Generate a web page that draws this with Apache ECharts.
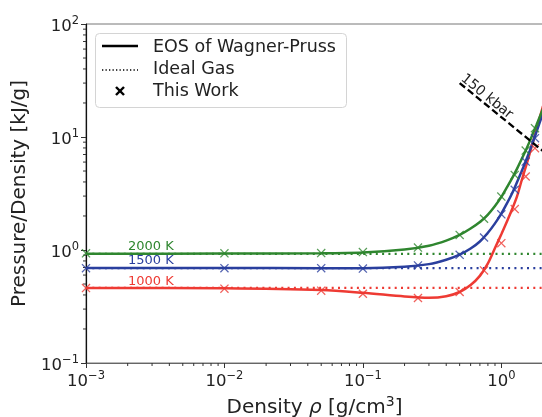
<!DOCTYPE html>
<html>
<head>
<meta charset="utf-8">
<script src="https://cdn.jsdelivr.net/npm/echarts@6/dist/echarts.min.js"></script>
<style>
html, body { margin: 0; padding: 0; background: #fff; }
#chart { width: 542px; height: 417px; }
</style>
</head>
<body>
<div id="chart"></div>
<script>
// Equation-of-state curves (Wagner-Pruss), P/rho in kJ/g vs density in g/cm^3
const eosDensity = [0.001, 0.01, 0.05, 0.1, 0.2, 0.3, 0.4, 0.5, 0.6, 0.7, 0.8, 0.9, 1.0, 1.1, 1.2, 1.3, 1.4, 1.5, 1.6, 1.7, 1.8, 1.9, 2.0];
const eos1000 = [0.4615, 0.458, 0.442, 0.418, 0.388, 0.378, 0.39, 0.425, 0.49, 0.59, 0.76, 1.04, 1.38, 1.8, 2.32, 3.0, 4.1, 5.4, 7.1, 9.2, 11.8, 15.0, 18.8];
const eos1500 = [0.692, 0.692, 0.691, 0.69, 0.71, 0.75, 0.82, 0.91, 1.03, 1.19, 1.42, 1.72, 2.1, 2.6, 3.2, 4.0, 4.95, 6.1, 7.5, 9.2, 11.2, 13.6, 16.4];
const eos2000 = [0.925, 0.93, 0.935, 0.95, 1.01, 1.09, 1.21, 1.36, 1.55, 1.77, 2.06, 2.45, 2.95, 3.6, 4.35, 5.25, 6.35, 7.6, 9.1, 10.9, 12.9, 15.2, 17.8];

// Simulation results
const workDensity = [0.001, 0.01, 0.05, 0.1, 0.25, 0.5, 0.75, 1.0, 1.25, 1.5, 1.75];
const work1000 = [0.46, 0.455, 0.437, 0.41, 0.376, 0.425, 0.66, 1.15, 2.3, 4.47, 7.96];
const work1500 = [0.69, 0.69, 0.69, 0.685, 0.73, 0.907, 1.29, 2.07, 3.41, 6.06, 9.76];
const work2000 = [0.935, 0.935, 0.94, 0.958, 1.05, 1.36, 1.89, 2.97, 4.62, 7.59, 11.97];

// Ideal gas limit P/rho = RT/M
const idealDensity = [0.001, 2];
const ideal1000 = [0.4615, 0.4615];
const ideal1500 = [0.692, 0.692];
const ideal2000 = [0.923, 0.923];

// 150 kbar isobar
const isobarDensity = [0.5, 2];
const isobarValue = [30, 7.5];

// Minor tick positions
const xMinorTicks = [0.002, 0.003, 0.004, 0.005, 0.006, 0.007, 0.008, 0.009,
  0.02, 0.03, 0.04, 0.05, 0.06, 0.07, 0.08, 0.09,
  0.2, 0.3, 0.4, 0.5, 0.6, 0.7, 0.8, 0.9];
const yMinorTicks = [0.2, 0.3, 0.4, 0.5, 0.6, 0.7, 0.8, 0.9,
  2, 3, 4, 5, 6, 7, 8, 9, 20, 30, 40, 50, 60, 70, 80, 90];

const tempLabels = ['1000 K', '1500 K', '2000 K'];
const legendLabels = ['EOS of Wagner-Pruss', 'Ideal Gas', 'This Work'];

const RED = '#ee3a33', BLUE = '#2a3f9e', GREEN = '#2f862f';
const FONT = 'DejaVu Sans';
const TXT = '#222';

const zip = (xs, ys) => xs.map((x, i) => [x, ys[i]]);
const CROSS = 'path://M0,1L1,0L5,4L9,0L10,1L6,5L10,9L9,10L5,6L1,10L0,9L4,5Z';

function powLabel(v) {
  const e = Math.log10(v);
  const r = Math.round(e);
  if (Math.abs(e - r) > 1e-6) return '';
  const s = r < 0 ? '\u2212' + (-r) : String(r);
  return '{b|10}{s|' + s + '}';
}
const tickRich = {
  b: { fontSize: 16.5, fontFamily: FONT, color: TXT, padding: [5, 0, 0, 0] },
  s: { fontSize: 11.5, fontFamily: FONT, color: TXT, padding: [0, 0, 5, 0] }
};

function eosSeries(vals, color) {
  return {
    type: 'line', data: zip(eosDensity, vals), showSymbol: false, smooth: 0.3,
    lineStyle: { color: color, width: 2.5 }, z: 3, silent: true
  };
}
function idealSeries(vals, color) {
  return {
    type: 'line', data: zip(idealDensity, vals), showSymbol: false,
    lineStyle: { color: color, width: 2.2, type: [2, 4.3] }, z: 2, silent: true
  };
}
function workSeries(vals, color) {
  return {
    type: 'scatter', data: zip(workDensity, vals), symbol: CROSS, symbolSize: 9,
    itemStyle: { color: color }, z: 4, clip: false, silent: true
  };
}

const chart = echarts.init(document.getElementById('chart'), null, { renderer: 'canvas' });

const option = {
  animation: false,
  backgroundColor: '#fff',
  grid: { left: 86, top: 24, right: -1, bottom: 54, outerBoundsMode: 'none', containLabel: false,
    show: true, borderColor: '#777', borderWidth: 1, backgroundColor: 'transparent' },
  xAxis: {
    type: 'log', logBase: 10, min: 0.001, max: 2,
    name: '{n|Density }{i|\u03c1}{n| [g/cm}{s|3}{n|]}',
    nameLocation: 'middle', nameGap: 28,
    nameTextStyle: {
      rich: {
        n: { fontSize: 20, fontFamily: FONT, color: TXT, padding: [6, 0, 0, 0] },
        i: { fontSize: 20, fontFamily: FONT, fontStyle: 'italic', color: TXT, padding: [6, 0, 0, 0] },
        s: { fontSize: 14, fontFamily: FONT, color: TXT, padding: [0, 0, 6, 0] }
      }
    },
    axisLine: { show: true, lineStyle: { color: '#666', width: 1 } },
    axisTick: { show: true, inside: false, length: 5, lineStyle: { color: '#333' } },
    axisLabel: { formatter: powLabel, rich: tickRich, margin: 5, showMaxLabel: false },
    splitLine: { show: false }
  },
  yAxis: {
    type: 'log', logBase: 10, min: 0.1, max: 100,
    name: 'Pressure/Density [kJ/g]',
    nameLocation: 'middle', nameGap: 50, nameRotate: 90,
    nameTextStyle: { fontSize: 20, fontFamily: FONT, color: TXT },
    axisLine: { show: true, lineStyle: { color: '#111', width: 1.2 } },
    axisTick: { show: true, inside: false, length: 5, lineStyle: { color: '#333' } },
    axisLabel: { formatter: powLabel, rich: tickRich, margin: 7 },
    splitLine: { show: false }
  },
  series: [
    idealSeries(ideal1000, RED),
    idealSeries(ideal1500, BLUE),
    idealSeries(ideal2000, GREEN),
    eosSeries(eos1000, RED),
    eosSeries(eos1500, BLUE),
    eosSeries(eos2000, GREEN),
    workSeries(work1000, RED),
    workSeries(work1500, BLUE),
    workSeries(work2000, GREEN),
    {
      type: 'line', data: zip(isobarDensity, isobarValue), showSymbol: false,
      lineStyle: { color: '#000', width: 2.3, type: [7, 3.5] }, z: 5, silent: true
    },
    {
      type: 'custom', silent: true, clip: false, z: 1,
      data: xMinorTicks.map(v => [v, 0.1]),
      renderItem: (params, api) => {
        const p = api.coord([api.value(0), api.value(1)]);
        return { type: 'line', shape: { x1: p[0], y1: p[1], x2: p[0], y2: p[1] + 3 }, style: { stroke: '#333', lineWidth: 1 } };
      }
    },
    {
      type: 'custom', silent: true, clip: false, z: 1,
      data: yMinorTicks.map(v => [0.001, v]),
      renderItem: (params, api) => {
        const p = api.coord([api.value(0), api.value(1)]);
        return { type: 'line', shape: { x1: p[0], y1: p[1], x2: p[0] - 3, y2: p[1] }, style: { stroke: '#333', lineWidth: 1 } };
      }
    }
  ],
  graphic: [
    // legend frame and entries
    { type: 'rect', z: 10, shape: { x: 95.5, y: 33.5, width: 251, height: 74, r: 4 },
      style: { fill: 'rgba(255,255,255,0.85)', stroke: '#d4d4d4', lineWidth: 1 } },
    { type: 'line', z: 11, shape: { x1: 102, y1: 46, x2: 138, y2: 46 }, style: { stroke: '#000', lineWidth: 2.5 } },
    { type: 'line', z: 11, shape: { x1: 102, y1: 70, x2: 138, y2: 70 }, style: { stroke: '#000', lineWidth: 1.3, lineDash: [1.3, 2.2] } },
    { type: 'line', z: 11, shape: { x1: 116, y1: 87, x2: 124, y2: 95 }, style: { stroke: '#000', lineWidth: 2.4 } },
    { type: 'line', z: 11, shape: { x1: 116, y1: 95, x2: 124, y2: 87 }, style: { stroke: '#000', lineWidth: 2.4 } },
    { type: 'text', z: 11, x: 153, y: 47, style: { text: legendLabels[0], font: '17.5px "DejaVu Sans"', fill: TXT, verticalAlign: 'middle' } },
    { type: 'text', z: 11, x: 153, y: 69.5, style: { text: legendLabels[1], font: '17.5px "DejaVu Sans"', fill: TXT, verticalAlign: 'middle' } },
    { type: 'text', z: 11, x: 153, y: 91.5, style: { text: legendLabels[2], font: '17.5px "DejaVu Sans"', fill: TXT, verticalAlign: 'middle' } },
    // temperature tags
    { type: 'text', z: 11, x: 128, y: 281.5, style: { text: tempLabels[0], font: '13px "DejaVu Sans"', fill: RED, verticalAlign: 'middle' } },
    { type: 'text', z: 11, x: 128, y: 261, style: { text: tempLabels[1], font: '13px "DejaVu Sans"', fill: BLUE, verticalAlign: 'middle' } },
    { type: 'text', z: 11, x: 128, y: 247, style: { text: tempLabels[2], font: '13px "DejaVu Sans"', fill: GREEN, verticalAlign: 'middle' } },
    // isobar tag
    { type: 'text', z: 11, x: 486.8, y: 96.6, rotation: -0.6849,
      style: { text: '150 kbar', font: '14px "DejaVu Sans"', fill: TXT, align: 'center', verticalAlign: 'middle' } }
  ]
};

chart.setOption(option);
</script>
</body>
</html>
